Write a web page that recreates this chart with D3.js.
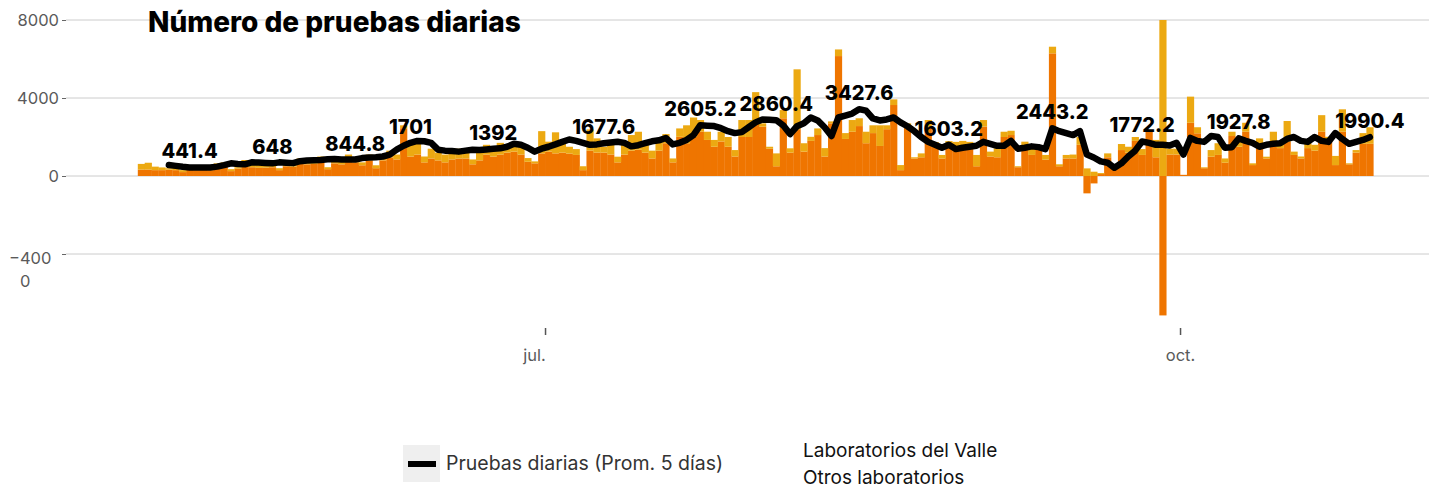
<!DOCTYPE html>
<html>
<head>
<meta charset="utf-8">
<script src="https://cdn.jsdelivr.net/npm/d3@7"></script>
<style>
  html, body { margin: 0; padding: 0; background: #fff; }
  svg { display: block; font-family: Inter, "Noto Sans", sans-serif; }
</style>
</head>
<body>
<svg id="chart" width="1429" height="488"></svg>
<script>
// ---------------- DATA ----------------
const startDate = "2020-05-03";   // first day of the series (179 days to 2020-10-28)

// Laboratorios del Valle (daily tests)
const valle = [
  330,330,300,300,330,300,200,330,300,320, 300,450,500,250,380,560,450,420,430,450,
  300,500,480,650,600,620,700,350,650,600, 750,700,550,800,400,800,950,850,2450,1000,
  1100,700,900,800,700,850,900,900,600,800, 1100,1000,1100,1200,1250,1100,730,650,1160,1250,
  1160,1200,1150,1080,300,1300,1200,1200,1100,700, 1100,1300,1350,1200,900,1300,1680,700,2010,1680,
  2010,2270,1850,1500,1770,1500,1000,2000,2000,2700, 2530,1400,500,2960,1200,2400,1250,1800,2100,1000,
  2700,6150,1900,2270,2560,1680,2200,1540,2400,3640, 300,2600,900,960,2530,1540,900,1690,1450,1500,
  1400,500,2530,1000,960,2000,2100,450,1500,1080, 1500,840,6290,500,900,900,1600,-890,-380,100,
  960,400,1330,1200,1800,1080,2300,960,-7150,1100, 1100,60,2730,2190,400,990,1080,680,2050,1500,
  2270,560,1500,900,1500,1430,1760,1080,900,1430, 1300,2270,1760,560,2270,600,1200,1650,1650
];

// Otros laboratorios (daily tests)
const otros = [
  290,350,180,140,70,120,100,90,80,200, 130,200,200,100,70,260,200,180,130,170,
  100,180,100,250,160,180,300,100,250,200, 350,250,150,300,150,250,350,250,150,600,
  600,300,500,400,400,400,500,400,250,400, 500,400,600,400,350,400,190,100,1140,510,
  1080,560,350,300,200,1090,730,300,600,290, 500,800,920,500,400,600,470,200,430,920,
  990,600,420,350,500,500,330,870,870,1600, 170,100,660,420,220,3070,430,210,340,430,
  100,340,300,600,400,590,400,1060,200,290, 260,100,60,200,340,200,180,100,300,300,
  350,580,340,250,460,270,220,50,260,420, 50,240,340,100,180,200,400,390,220,50,
  200,80,310,300,200,300,60,890,8000,300, 300,0,1340,310,45,340,600,220,220,350,
  460,90,430,90,770,250,1060,170,100,250, 300,850,250,470,1150,50,130,550,850
];

// Pruebas diarias (Prom. 5 días) — null before the 5th day
const promedio = [
  null,null,null,null,560,520,470,441.4,430,430, 440,480,560,650,620,600,700,690,670,648,
  700,680,660,760,800,810,820,860,870,850, 850,844.8,920,950,960,1000,1100,1350,1550,1701,
  1800,1780,1700,1350,1300,1280,1250,1300,1350,1330, 1360,1392,1420,1500,1650,1600,1450,1250,1400,1500,
  1620,1750,1870,1800,1700,1600,1620,1677.6,1720,1760, 1700,1520,1580,1680,1780,1830,1950,1620,1700,1850,
  2100,2605.2,2580,2560,2450,2300,2200,2250,2500,2750, 2900,2880,2860.4,2600,2150,2550,2700,3000,2850,2500,
  2050,3000,3100,3200,3427.6,3350,2950,2850,2900,3000, 2750,2550,2300,2000,1750,1600,1450,1603.2,1380,1450,
  1500,1550,1750,1650,1550,1550,1800,1400,1450,1520, 1480,1380,2443.2,2300,2200,2100,2300,1100,950,750,
  680,420,650,1000,1300,1772.2,1700,1600,1600,1560, 1700,1100,1950,1800,1750,2050,2000,1450,1480,1927.8,
  1800,1700,1500,1600,1650,1680,1900,2000,1800,1750, 2000,1800,1750,2200,1900,1650,1750,1850,1990.4
];

// days whose 5-day average value is written on the line
const labelDays = [7, 19, 31, 39, 51, 67, 81, 92, 104, 117, 132, 145, 159, 178];

const yTicks = [-4000, 0, 4000, 8000];
const xTicks = ["2020-07-01", "2020-10-01"];
const xTickLabels = ["jul.", "oct."];

const title = "Número de pruebas diarias";
const seriesNames = ["Laboratorios del Valle", "Otros laboratorios"];
const lineName = "Pruebas diarias (Prom. 5 días)";

// ---------------- BUILD ----------------
const parse = d3.utcParse("%Y-%m-%d");
const d0 = parse(startDate);
const dates = valle.map((_, i) => d3.utcDay.offset(d0, i));
const rows = dates.map((d, i) => ({ date: d, valle: valle[i], otros: otros[i], avg: promedio[i] }));

const colors = { valle: "#ef7500", otros: "#eca912" };

const svg = d3.select("#chart");

const x = d3.scaleUtc()
  .domain([d0, d3.utcDay.offset(d0, valle.length)])
  .range([137.8, 1373.3]);

const y = d3.scaleLinear().domain([-8000, 8000]).range([332, 20]);

// grid lines
svg.append("g").selectAll("line").data(yTicks).join("line")
  .attr("x1", 66).attr("x2", 1429)
  .attr("y1", d => y(d)).attr("y2", d => y(d))
  .attr("stroke", "#cccccc").attr("stroke-width", 1);

// y axis
const yAxis = svg.append("g").attr("transform", "translate(66,0)")
  .call(d3.axisLeft(y).tickValues(yTicks).tickSize(4).tickPadding(3).tickFormat(d => String(d)));
yAxis.select(".domain").remove();
yAxis.selectAll(".tick line").attr("stroke", "#666");
yAxis.selectAll(".tick text")
  .attr("fill", "#5a5a5a").attr("font-size", 16.5).attr("font-family", "Inter, sans-serif");
yAxis.selectAll(".tick").filter(d => d === -4000).select("text").each(function () {
  const t = d3.select(this);
  t.text(null).attr("text-anchor", "start").attr("dy", null).attr("y", 0);
  t.append("tspan").attr("x", -57).attr("y", 9).text("\u2212400");
  t.append("tspan").attr("x", -46).attr("y", 32).text("0");
});

// stacked bars
const stack = d3.stack().keys(["valle", "otros"]).offset(d3.stackOffsetDiverging);
const layers = stack(rows);

svg.append("g").selectAll("g").data(layers).join("g")
  .attr("fill", d => colors[d.key])
  .selectAll("rect").data(d => d).join("rect")
  .attr("x", d => x(d.data.date))
  .attr("width", d => x(d3.utcDay.offset(d.data.date, 1)) - x(d.data.date) + 0.3)
  .attr("y", d => y(Math.max(d[0], d[1])))
  .attr("height", d => Math.abs(y(d[0]) - y(d[1])));

// x axis ticks
const xAxis = svg.append("g").attr("transform", "translate(0,328)")
  .call(d3.axisBottom(x).tickValues(xTicks.map(parse)).tickSize(7).tickPadding(14)
    .tickFormat((d, i) => xTickLabels[i]));
xAxis.select(".domain").remove();
xAxis.selectAll(".tick line").attr("stroke", "#555").attr("stroke-width", 1.5);
xAxis.selectAll(".tick text").attr("fill", "#5a5a5a").attr("font-size", 16.5)
  .attr("font-family", "Inter, sans-serif").attr("dx", (d, i) => i === 0 ? -11 : 0);

// 5-day average line
const cx = d => x(d.date) + (x(d3.utcDay.offset(d.date, 1)) - x(d.date)) / 2;
const line = d3.line().defined(d => d.avg != null).x(cx).y(d => y(d.avg));
svg.append("path").datum(rows)
  .attr("d", line).attr("fill", "none").attr("stroke", "#000")
  .attr("stroke-width", 6.5).attr("stroke-linejoin", "round").attr("stroke-linecap", "round");

// value labels
svg.append("g").selectAll("text").data(labelDays.map(i => rows[i])).join("text")
  .attr("x", cx).attr("y", d => y(d.avg) - 9)
  .attr("text-anchor", "middle").attr("font-size", 20).attr("font-weight", 800)
  .attr("fill", "#000")
  .text(d => String(d.avg));

// title
svg.append("text").attr("x", 148).attr("y", 32)
  .attr("font-size", 28).attr("font-weight", 800).attr("fill", "#000")
  .text(title);

// legend
const lg = svg.append("g");
lg.append("rect").attr("x", 403).attr("y", 445).attr("width", 37).attr("height", 37).attr("fill", "#efefef");
lg.append("line").attr("x1", 408).attr("x2", 436).attr("y1", 464).attr("y2", 464)
  .attr("stroke", "#000").attr("stroke-width", 6);
lg.append("text").attr("x", 446).attr("y", 470).attr("font-size", 19.5).attr("fill", "#333")
  .text(lineName);
lg.append("text").attr("x", 803).attr("y", 457).attr("font-size", 19).attr("fill", "#111")
  .text(seriesNames[0]);
lg.append("text").attr("x", 803).attr("y", 484).attr("font-size", 19).attr("fill", "#111")
  .text(seriesNames[1]);
</script>
</body>
</html>
